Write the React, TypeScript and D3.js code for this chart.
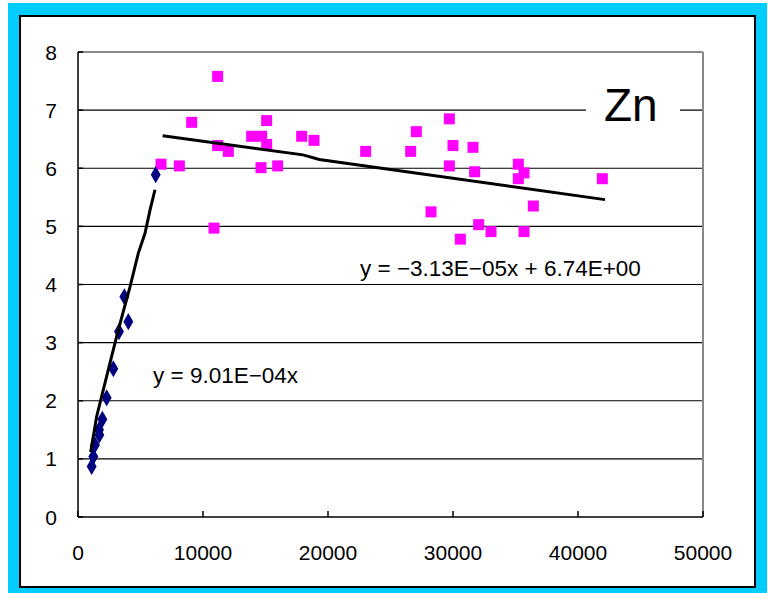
import React from 'react';
import * as d3 from 'd3';

// low-concentration group (blue diamonds)
const lowX = [6216, 3707, 4027, 3280, 2827, 2293, 1947, 1680, 1707, 1360, 1227, 1093];
const lowY = [5.89, 3.79, 3.36, 3.19, 2.55, 2.05, 1.68, 1.5, 1.41, 1.24, 1.04, 0.87];

// high-concentration group (magenta squares)
const highX = [11173, 9093, 15093, 13893, 14693, 15093, 11173, 12027, 17893, 18880, 6640, 8107, 14640, 15973, 10880,
  23013, 26613, 27067, 29707, 30000, 31600, 29707, 31733, 35227, 35680, 35227, 41947, 28240, 36427, 32053, 33040, 35680, 30587];
const highY = [7.58, 6.79, 6.82, 6.55, 6.55, 6.41, 6.39, 6.29, 6.55, 6.48, 6.07, 6.04, 6.01, 6.04, 4.97,
  6.29, 6.29, 6.63, 6.85, 6.39, 6.36, 6.04, 5.94, 6.07, 5.92, 5.82, 5.82, 5.25, 5.35, 5.03, 4.91, 4.91, 4.78];

// trend lines as drawn
const lowFitX = [1013, 1493, 2560, 3227, 4160, 4827, 5360, 5760, 6160];
const lowFitY = [1.12, 1.73, 2.65, 3.22, 3.96, 4.54, 4.88, 5.28, 5.63];
const highFitX = [6773, 18000, 19300, 42160];
const highFitY = [6.56, 6.23, 6.15, 5.46];

const xTicks = [0, 10000, 20000, 30000, 40000, 50000];
const yTicks = [0, 1, 2, 3, 4, 5, 6, 7, 8];

const font = '"Liberation Sans", Arial, sans-serif';

export default function App() {
  const x = d3.scaleLinear().domain([0, 50000]).range([78, 703]);
  const y = d3.scaleLinear().domain([0, 8]).range([517, 52]);

  const line = d3.line<[number, number]>().x(d => x(d[0])).y(d => y(d[1]));
  const lowFit = line(lowFitX.map((v, i) => [v, lowFitY[i]]) as [number, number][]) || '';
  const highFit = line(highFitX.map((v, i) => [v, highFitY[i]]) as [number, number][]) || '';
  const diamond = d3.symbol().type(d3.symbolDiamond).size(85)() || '';

  return (
    <svg width={768} height={593} style={{ position: 'absolute', left: 0, top: 0 }} fontFamily={font}>
      <rect x={0} y={0} width={768} height={593} fill="#fff" />
      <rect x={8} y={3} width={759} height={590} fill="#00ccff" />
      <rect x={20} y={16} width={735} height={571} fill="#fff" stroke="#000" strokeWidth={2} />

      {/* grid */}
      {yTicks.filter(t => t > 0 && t < 8).map(t => (
        <line key={t} x1={x(0)} x2={x(50000)} y1={y(t)} y2={y(t)} stroke="#000" strokeWidth={1.2} />
      ))}
      {/* plot frame */}
      <line x1={x(0)} x2={x(50000)} y1={y(8)} y2={y(8)} stroke="#888" strokeWidth={2} />
      <line x1={x(50000)} x2={x(50000)} y1={y(8)} y2={y(0)} stroke="#888" strokeWidth={2} />
      <line x1={x(0)} x2={x(0)} y1={y(8)} y2={y(0)} stroke="#000" strokeWidth={1.5} />
      <line x1={x(0)} x2={x(50000)} y1={y(0)} y2={y(0)} stroke="#000" strokeWidth={1.5} />

      {yTicks.map(t => (
        <g key={t}>
          <line x1={x(0)} x2={x(0) + 5} y1={y(t)} y2={y(t)} stroke="#000" strokeWidth={1.5} />
          <text x={57} y={y(t) + 7.5} textAnchor="end" fontSize={21}>{t}</text>
        </g>
      ))}
      {xTicks.map(t => (
        <g key={t}>
          <line x1={x(t)} x2={x(t)} y1={y(0) - 6} y2={y(0)} stroke="#000" strokeWidth={1.5} />
          <text x={x(t)} y={560} textAnchor="middle" fontSize={21}>{t}</text>
        </g>
      ))}

      {/* label */}
      <rect x={586} y={86} width={94} height={44} fill="#fff" />
      <text x={604} y={121} fontSize={46}>Zn</text>

      {highX.map((v, i) => (
        <rect key={i} x={x(v) - 5.5} y={y(highY[i]) - 5.5} width={11} height={11} fill="#ff00ff" />
      ))}
      {lowX.map((v, i) => (
        <path key={i} d={diamond} transform={`translate(${x(v)},${y(lowY[i])})`} fill="#000080" />
      ))}

      <path d={lowFit} fill="none" stroke="#000" strokeWidth={3} />
      <path d={highFit} fill="none" stroke="#000" strokeWidth={3} />

      <text x={153} y={383} fontSize={22.5}>y = 9.01E−04x</text>
      <text x={360} y={276} fontSize={22.5}>y = −3.13E−05x + 6.74E+00</text>
    </svg>
  );
}
